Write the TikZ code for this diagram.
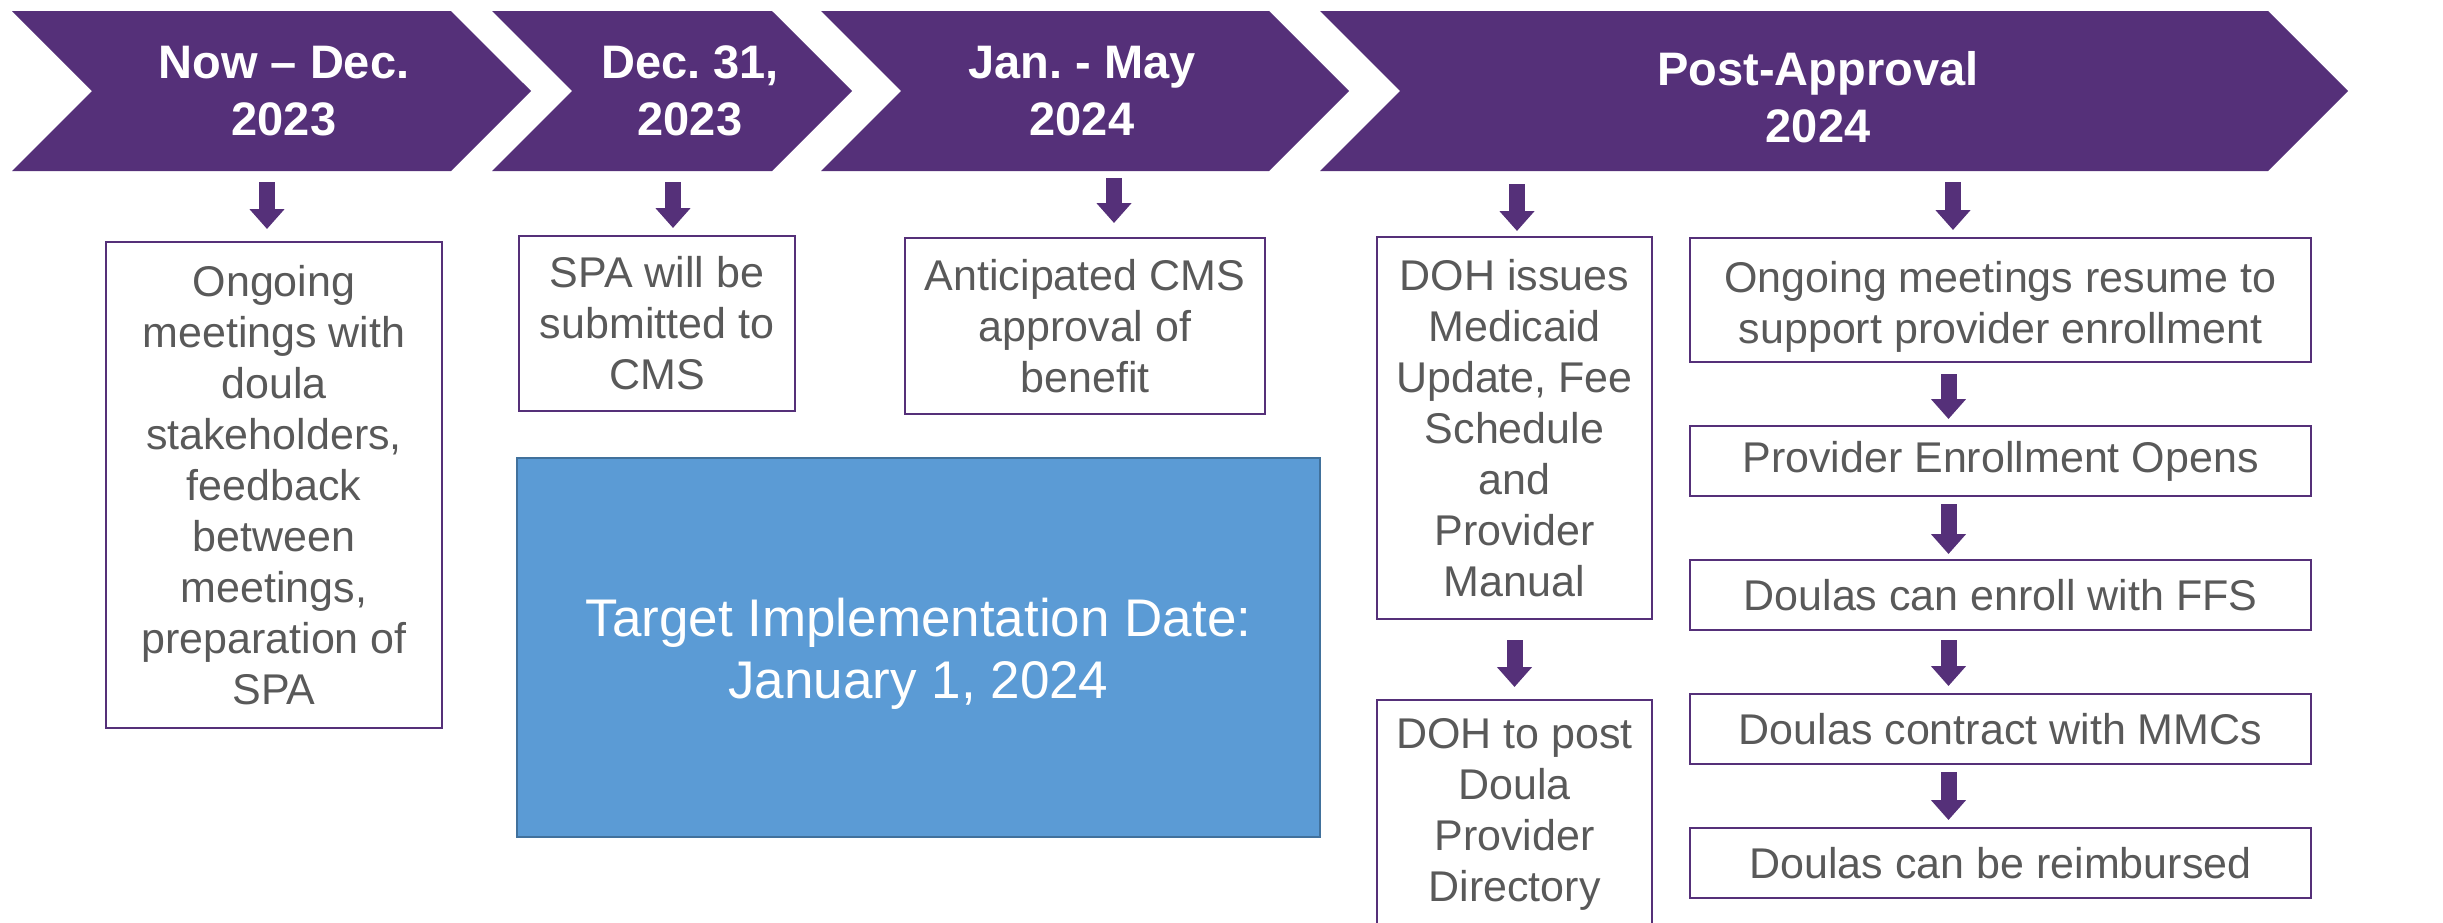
\documentclass[tikz,border=0pt]{standalone}
\usepackage{fontspec}
\setmainfont{Liberation Sans}
\usetikzlibrary{shapes.symbols,arrows.meta,positioning}
\definecolor{purp}{HTML}{553079}
\definecolor{txtgray}{HTML}{595959}
\definecolor{tblue}{HTML}{5B9BD5}
\definecolor{tblueline}{HTML}{41719C}

\begin{document}
\frenchspacing
\begin{tikzpicture}[x=0.5pt,y=-0.5pt,
	chev/.style={signal,signal from=west,signal to=east,signal pointer angle=90,fill=purp,minimum height=80pt,inner sep=0pt,outer sep=0pt},
	head/.style={text=white,align=center,font=\bfseries\fontsize{23.5}{28.5}\selectfont},
	box/.style={draw=purp,line width=1pt,text=txtgray,align=center,inner sep=0pt,outer sep=0pt,font=\fontsize{21.5}{25.5}\selectfont},
	step box/.style={box,minimum width=310.5pt,minimum height=35pt},
	flow/.style={purp,line width=8pt,-{Triangle[width=17pt,length=10pt]}},
	node distance=32pt]
\useasboundingbox (0,0) rectangle (2443,922);
% timeline chevrons
\node[chev,minimum width=259.5pt] (c1) at (271.5,91) {};
\node[chev,minimum width=180pt] (c2) at (672,91) {};
\node[chev,minimum width=264pt] (c3) at (1085,91) {};
\node[chev,minimum width=514pt] (c4) at (1834,91) {};
\node[head] (t1) at ([xshift=6.25pt]c1.center) {Now – Dec.\\2023};
\node[head] (t2) at ([xshift=9pt]c2.center) {Dec. 31,\\2023};
\node[head] (t3) at ([xshift=-1.5pt]c3.center) {Jan. - May\\2024};
\node[head] (t4) at ([xshift=-8pt,yshift=-3pt]c4.center) {Post-Approval\\2024};
% boxes
\node[box,minimum width=168pt,minimum height=243pt] (a) at (274,485)
	{Ongoing\\meetings with\\doula\\stakeholders,\\feedback\\between\\meetings,\\preparation of\\SPA};
\node[box,minimum width=138pt,minimum height=87.5pt] (b) at (657,323.5)
	{SPA will be\\submitted to\\CMS};
\node[box,minimum width=180pt,minimum height=88pt] (c) at (1085,326)
	{Anticipated CMS\\approval of\\benefit};
\node[draw=tblueline,fill=tblue,line width=1pt,text=white,align=center,
	minimum width=401.5pt,minimum height=189.5pt,font=\fontsize{26.5}{31}\selectfont] (target) at (918.5,647.5)
	{\rule{0pt}{25.5pt}Target Implementation Date:\\January 1, 2024};
\node[box,minimum width=137.5pt,minimum height=191pt] (d) at (1514.5,428)
	{DOH issues\\Medicaid\\Update, Fee\\Schedule\\and\\Provider\\Manual};
\node[box,below=40.5pt of d,minimum width=137.5pt,minimum height=114pt] (e)
	{DOH to post\\Doula\\Provider\\Directory};
\node[box,minimum width=310.5pt,minimum height=62pt] (f) at (2000.5,300)
	{\rule{0pt}{22pt}Ongoing meetings resume to\\support provider enrollment};
\node[step box,below=of f] (g) {Provider Enrollment Opens};
\node[step box,below=of g] (h) {Doulas can enroll with FFS};
\node[step box,below=of h] (i) {Doulas contract with MMCs};
\node[step box,below=of i] (j) {Doulas can be reimbursed};
% arrows
\draw[flow] ([xshift=-2.25pt,yshift=-5.5pt]c1.south) -- ([xshift=-3.5pt,yshift=6.5pt]a.north);
\draw[flow] ([xshift=0.5pt,yshift=-5.5pt]c2.south) -- ([xshift=8pt,yshift=4pt]b.north);
\draw[flow] ([xshift=14.5pt,yshift=-3.5pt]c3.south) -- ([xshift=14.5pt,yshift=7.5pt]c.north);
\draw[flow] ([xshift=-158.5pt,yshift=-6.5pt]c4.south) -- ([xshift=1.25pt,yshift=3pt]d.north);
\draw[flow] ([xshift=59.5pt,yshift=-5.5pt]c4.south) -- ([xshift=-23.75pt,yshift=4pt]f.north);
\draw[flow] ([yshift=-10.5pt]d.south) -- ([yshift=6.5pt]e.north);
\draw[flow] ([xshift=-26pt,yshift=-6pt]f.south) -- ([xshift=-26pt,yshift=3.5pt]g.north);
\draw[flow] ([xshift=-26pt,yshift=-4pt]g.south) -- ([xshift=-26pt,yshift=3pt]h.north);
\draw[flow] ([xshift=-26pt,yshift=-5pt]h.south) -- ([xshift=-26pt,yshift=4pt]i.north);
\draw[flow] ([xshift=-26pt,yshift=-4pt]i.south) -- ([xshift=-26pt,yshift=4pt]j.north);
\end{tikzpicture}
\end{document}
